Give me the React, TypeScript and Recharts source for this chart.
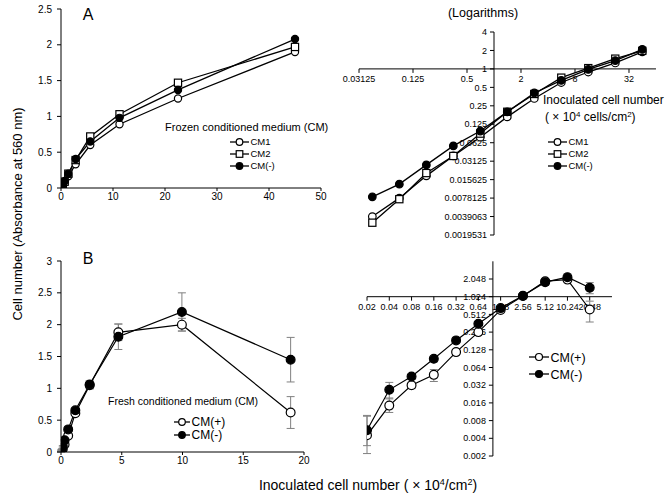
import React from 'react';
import { LineChart, Line, XAxis, YAxis, ErrorBar } from 'recharts';

const FONT = '"Liberation Sans", Arial, Helvetica, sans-serif';

// ---------- Panel A: frozen conditioned medium ----------
const aX = [0.044, 0.088, 0.176, 0.352, 0.703, 1.406, 2.8125, 5.625, 11.25, 22.5, 45];
const aCM1 = [0.0039, 0.0078, 0.018, 0.038, 0.077, 0.165, 0.33, 0.6, 0.89, 1.25, 1.9];
const aCM2 = [0.0031, 0.0075, 0.02, 0.038, 0.088, 0.2, 0.39, 0.72, 1.03, 1.47, 1.97];
const aCMNeg = [0.0082, 0.0132, 0.0272, 0.0555, 0.097, 0.199, 0.405, 0.65, 0.98, 1.37, 2.08];
const aLinXTicks = [0, 10, 20, 30, 40, 50];
const aLinYTicks = [0, 0.5, 1, 1.5, 2, 2.5];
const aLogXTicks = [0.03125, 0.125, 0.5, 2, 8, 32];
const aLogYTicks = [0.0019531, 0.0039063, 0.0078125, 0.015625, 0.03125, 0.0625, 0.125, 0.25, 0.5, 1, 2, 4];

// ---------- Panel B: fresh conditioned medium ----------
const bX = [0.018, 0.037, 0.074, 0.148, 0.295, 0.59, 1.18, 2.36, 4.72, 9.95, 18.9];
const bLogX = [0.02, 0.04, 0.08, 0.16, 0.32, 0.64, 1.28, 2.56, 5.12, 10.24, 20.48];
const bCMPlus = [0.0045, 0.0144, 0.032, 0.048, 0.117, 0.256, 0.61, 1.05, 1.88, 2.0, 0.62];
const bCMNeg = [0.0055, 0.0267, 0.045, 0.09, 0.185, 0.355, 0.655, 1.06, 1.81, 2.2, 1.45];
const bCMPlusSd = [0.005, 0.005, 0.004, 0.011, 0.01, 0.02, 0.03, 0.06, 0.13, 0.1, 0.25];
const bCMNegSd = [0.004, 0.009, 0.005, 0.01, 0.01, 0.02, 0.03, 0.06, 0.2, 0.3, 0.35];
const bCMPlusLogErr = [[0.0023, 0.005], [0.0034, 0.005], [0.004, 0.004], [0.011, 0.011], [0.01, 0.01], [0.02, 0.02], [0.03, 0.03], [0.05, 0.05], [0.13, 0.13], [0.1, 0.1], [0.24, 0.24]];
const bCMNegLogErr = [[0.0025, 0.0043], [0.008, 0.009], [0.005, 0.005], [0.01, 0.01], [0.01, 0.01], [0.02, 0.02], [0.03, 0.03], [0.05, 0.05], [0.2, 0.2], [0.3, 0.3], [0.3, 0.33]];
const bLinXTicks = [0, 5, 10, 15, 20];
const bLinYTicks = [0, 0.5, 1, 1.5, 2, 2.5, 3];
const bLogXTicks = [0.02, 0.04, 0.08, 0.16, 0.32, 0.64, 1.28, 2.56, 5.12, 10.24, 20.48];
const bLogYTicks = [0.002, 0.004, 0.008, 0.016, 0.032, 0.064, 0.128, 0.256, 0.512, 1.024, 2.048];

const aRows = aX.map((x, i) => ({ x, cm1: aCM1[i], cm2: aCM2[i], cmn: aCMNeg[i] }));
const bRows = bX.map((x, i) => ({ x, plus: bCMPlus[i], neg: bCMNeg[i], plusSd: bCMPlusSd[i], negSd: bCMNegSd[i] }));
const bLogRows = bLogX.map((x, i) => ({ x, plus: bCMPlus[i], neg: bCMNeg[i], plusErr: bCMPlusLogErr[i], negErr: bCMNegLogErr[i] }));

const openDot = (r: number) => ({ r, fill: '#fff', stroke: '#000', strokeWidth: 1.2 });
const fillDot = (r: number) => ({ r, fill: '#000', stroke: '#000', strokeWidth: 1.2 });
const SquareDot = (props: any) => {
  const { cx, cy, index } = props;
  if (cx == null || cy == null) return <g key={`sq-${index}`} />;
  return <rect key={`sq-${index}`} x={cx - 3.6} y={cy - 3.6} width={7.2} height={7.2} fill="#fff" stroke="#000" strokeWidth={1.2} />;
};

const tickStyle = (size: number) => ({ fontSize: size, fill: '#000', fontFamily: FONT });
const axisLine = { stroke: '#000', strokeWidth: 1 };

const abs = (left: number, top: number, z = 1): React.CSSProperties => ({ position: 'absolute', left, top, zIndex: z });

const LegendItem = ({ x1, x2, y, label, kind, r, size }: any) => {
  const cx = (x1 + x2) / 2;
  return (
    <g>
      <line x1={x1} x2={x2} y1={y} y2={y} stroke="#000" strokeWidth={1.3} />
      {kind === 'square' ? (
        <rect x={cx - r} y={y - r} width={2 * r} height={2 * r} fill="#fff" stroke="#000" strokeWidth={1.2} />
      ) : (
        <circle cx={cx} cy={y} r={r} fill={kind === 'filled' ? '#000' : '#fff'} stroke="#000" strokeWidth={1.2} />
      )}
      <text x={x2 + 1.5} y={y + size * 0.36} fontSize={size} fontFamily={FONT}>{label}</text>
    </g>
  );
};

export default function App() {
  return (
    <div style={{ position: 'absolute', left: 0, top: 0, width: 669, height: 500, background: '#fff', fontFamily: FONT }}>
      {/* Panel A linear */}
      <div style={abs(0, 0, 2)}>
        <LineChart width={340} height={210} data={aRows} margin={{ top: 9, right: 19, bottom: 0, left: 0 }}>
          <XAxis type="number" dataKey="x" domain={[0, 50]} ticks={aLinXTicks} interval={0} height={22} tickSize={3} tick={tickStyle(10)} axisLine={axisLine} tickLine={axisLine} allowDataOverflow />
          <YAxis type="number" domain={[0, 2.5]} ticks={aLinYTicks} interval={0} width={61} tickSize={4} tickMargin={5} tick={tickStyle(10)} axisLine={axisLine} tickLine={axisLine} allowDataOverflow />
          <Line dataKey="cm1" stroke="#000" strokeWidth={1.3} dot={openDot(3.6)} isAnimationActive={false} />
          <Line dataKey="cm2" stroke="#000" strokeWidth={1.3} dot={SquareDot} isAnimationActive={false} />
          <Line dataKey="cmn" stroke="#000" strokeWidth={1.3} dot={fillDot(3.6)} isAnimationActive={false} />
        </LineChart>
      </div>

      {/* Panel A log: x-axis overlay */}
      <div style={abs(340, 20, 1)}>
        <LineChart width={329} height={74.9} data={aRows} margin={{ top: 0, right: 13, bottom: 0, left: 19 }}>
          <XAxis type="number" dataKey="x" scale="log" domain={[0.03125, 64]} ticks={aLogXTicks} interval={0} height={26} tickSize={4} tickMargin={3} tick={tickStyle(9)} axisLine={axisLine} tickLine={axisLine} allowDataOverflow />
          <YAxis hide width={0} type="number" scale="log" domain={[0.0019531, 4]} allowDataOverflow />
        </LineChart>
      </div>
      {/* Panel A log: y-axis overlay */}
      <div style={abs(400, 20, 1)}>
        <LineChart width={120} height={230} data={aRows} margin={{ top: 12, right: 0, bottom: 15, left: 0 }}>
          <XAxis hide height={0} type="number" dataKey="x" scale="log" domain={[0.03125, 64]} allowDataOverflow />
          <YAxis type="number" scale="log" domain={[0.0019531, 4]} ticks={aLogYTicks} interval={0} width={94} tickSize={4} tickMargin={3} tick={tickStyle(9)} axisLine={axisLine} tickLine={axisLine} allowDataOverflow />
        </LineChart>
      </div>
      {/* Panel A log: data */}
      <div style={abs(340, 20, 2)}>
        <LineChart width={329} height={230} data={aRows} margin={{ top: 12, right: 13, bottom: 15, left: 19 }}>
          <XAxis hide height={0} type="number" dataKey="x" scale="log" domain={[0.03125, 64]} allowDataOverflow />
          <YAxis hide width={0} type="number" scale="log" domain={[0.0019531, 4]} allowDataOverflow />
          <Line dataKey="cm1" stroke="#000" strokeWidth={1.3} dot={openDot(3.8)} isAnimationActive={false} />
          <Line dataKey="cm2" stroke="#000" strokeWidth={1.3} dot={SquareDot} isAnimationActive={false} />
          <Line dataKey="cmn" stroke="#000" strokeWidth={1.3} dot={fillDot(3.8)} isAnimationActive={false} />
        </LineChart>
      </div>

      {/* Panel B linear */}
      <div style={abs(0, 240, 2)}>
        <LineChart width={340} height={234} data={bRows} margin={{ top: 21, right: 36, bottom: 0, left: 0 }}>
          <XAxis type="number" dataKey="x" domain={[0, 20]} ticks={bLinXTicks} interval={0} height={22} tickSize={3} tick={tickStyle(10)} axisLine={axisLine} tickLine={axisLine} allowDataOverflow />
          <YAxis type="number" domain={[0, 3]} ticks={bLinYTicks} interval={0} width={61} tickSize={4} tickMargin={5} tick={tickStyle(10)} axisLine={axisLine} tickLine={axisLine} allowDataOverflow />
          <Line dataKey="plus" stroke="#000" strokeWidth={1.2} dot={openDot(4.4)} isAnimationActive={false}>
            <ErrorBar dataKey="plusSd" width={4} stroke="#808080" strokeWidth={1} direction="y" />
          </Line>
          <Line dataKey="neg" stroke="#000" strokeWidth={1.2} dot={fillDot(4.4)} isAnimationActive={false}>
            <ErrorBar dataKey="negSd" width={4} stroke="#808080" strokeWidth={1} direction="y" />
          </Line>
        </LineChart>
      </div>

      {/* Panel B log: x-axis overlay */}
      <div style={abs(340, 240, 1)}>
        <LineChart width={329} height={80.7} data={bLogRows} margin={{ top: 21.3, right: 57, bottom: 0, left: 27 }}>
          <XAxis type="number" dataKey="x" scale="log" domain={[0.02, 40.96]} ticks={bLogXTicks} interval={0} height={24} tickSize={4} tickMargin={3} tick={tickStyle(9)} axisLine={axisLine} tickLine={axisLine} allowDataOverflow />
          <YAxis hide width={0} type="number" scale="log" domain={[0.002, 4.096]} allowDataOverflow />
        </LineChart>
      </div>
      {/* Panel B log: y-axis overlay */}
      <div style={abs(400, 240, 1)}>
        <LineChart width={120} height={230} data={bLogRows} margin={{ top: 21.3, right: 0, bottom: 14, left: 0 }}>
          <XAxis hide height={0} type="number" dataKey="x" scale="log" domain={[0.02, 40.96]} allowDataOverflow />
          <YAxis type="number" scale="log" domain={[0.002, 4.096]} ticks={bLogYTicks} interval={0} width={92.9} tickSize={4} tickMargin={3} tick={tickStyle(9)} axisLine={axisLine} tickLine={axisLine} allowDataOverflow />
        </LineChart>
      </div>
      {/* Panel B log: data */}
      <div style={abs(340, 240, 2)}>
        <LineChart width={329} height={230} data={bLogRows} margin={{ top: 21.3, right: 57, bottom: 14, left: 27 }}>
          <XAxis hide height={0} type="number" dataKey="x" scale="log" domain={[0.02, 40.96]} allowDataOverflow />
          <YAxis hide width={0} type="number" scale="log" domain={[0.002, 4.096]} allowDataOverflow />
          <Line dataKey="plus" stroke="#000" strokeWidth={1.2} dot={openDot(4.4)} isAnimationActive={false}>
            <ErrorBar dataKey="plusErr" width={4} stroke="#808080" strokeWidth={1} direction="y" />
          </Line>
          <Line dataKey="neg" stroke="#000" strokeWidth={1.2} dot={fillDot(4.4)} isAnimationActive={false}>
            <ErrorBar dataKey="negErr" width={4} stroke="#808080" strokeWidth={1} direction="y" />
          </Line>
        </LineChart>
      </div>

      {/* Text & legends */}
      <svg width={669} height={500} style={{ position: 'absolute', left: 0, top: 0, zIndex: 3, pointerEvents: 'none' }}>
        <text x={88} y={20} fontSize={16} textAnchor="middle" fontFamily={FONT}>A</text>
        <text x={88} y={264} fontSize={16} textAnchor="middle" fontFamily={FONT}>B</text>
        <text x={483} y={17} fontSize={12.5} textAnchor="middle" fontFamily={FONT}>(Logarithms)</text>
        <text transform="translate(22,214) rotate(-90)" fontSize={13} textAnchor="middle" fontFamily={FONT}>Cell number (Absorbance at 560 nm)</text>
        <text x={368} y={490} fontSize={14} textAnchor="middle" fontFamily={FONT}>
          Inoculated cell number ( × 10<tspan dy={-5} fontSize={9}>4</tspan><tspan dy={5}>/cm</tspan><tspan dy={-5} fontSize={9}>2</tspan><tspan dy={5}>)</tspan>
        </text>
        <text x={543} y={104} fontSize={12} fontFamily={FONT}>Inoculated cell number</text>
        <text x={545} y={121} fontSize={12} fontFamily={FONT}>
          ( × 10<tspan dy={-4} fontSize={8}>4</tspan><tspan dy={4}> cells/cm</tspan><tspan dy={-4} fontSize={8}>2</tspan><tspan dy={4}>)</tspan>
        </text>

        <text x={165} y={131} fontSize={11} fontFamily={FONT}>Frozen conditioned medium (CM)</text>
        <LegendItem x1={230} x2={249} y={142} label="CM1" kind="open" r={3.3} size={9.5} />
        <LegendItem x1={230} x2={249} y={154} label="CM2" kind="square" r={3.3} size={9.5} />
        <LegendItem x1={230} x2={249} y={166} label="CM(-)" kind="filled" r={3.3} size={9.5} />

        <LegendItem x1={548} x2={567} y={142} label="CM1" kind="open" r={3.3} size={9.5} />
        <LegendItem x1={548} x2={567} y={154} label="CM2" kind="square" r={3.3} size={9.5} />
        <LegendItem x1={548} x2={567} y={166} label="CM(-)" kind="filled" r={3.3} size={9.5} />

        <text x={108} y={404.5} fontSize={10.5} fontFamily={FONT}>Fresh conditioned medium (CM)</text>
        <LegendItem x1={174} x2={190} y={422} label="CM(+)" kind="open" r={3.3} size={12} />
        <LegendItem x1={174} x2={190} y={435} label="CM(-)" kind="filled" r={3.3} size={12} />

        <LegendItem x1={529} x2={549} y={357} label="CM(+)" kind="open" r={3.5} size={12.5} />
        <LegendItem x1={529} x2={549} y={374} label="CM(-)" kind="filled" r={3.5} size={12.5} />
      </svg>
    </div>
  );
}
